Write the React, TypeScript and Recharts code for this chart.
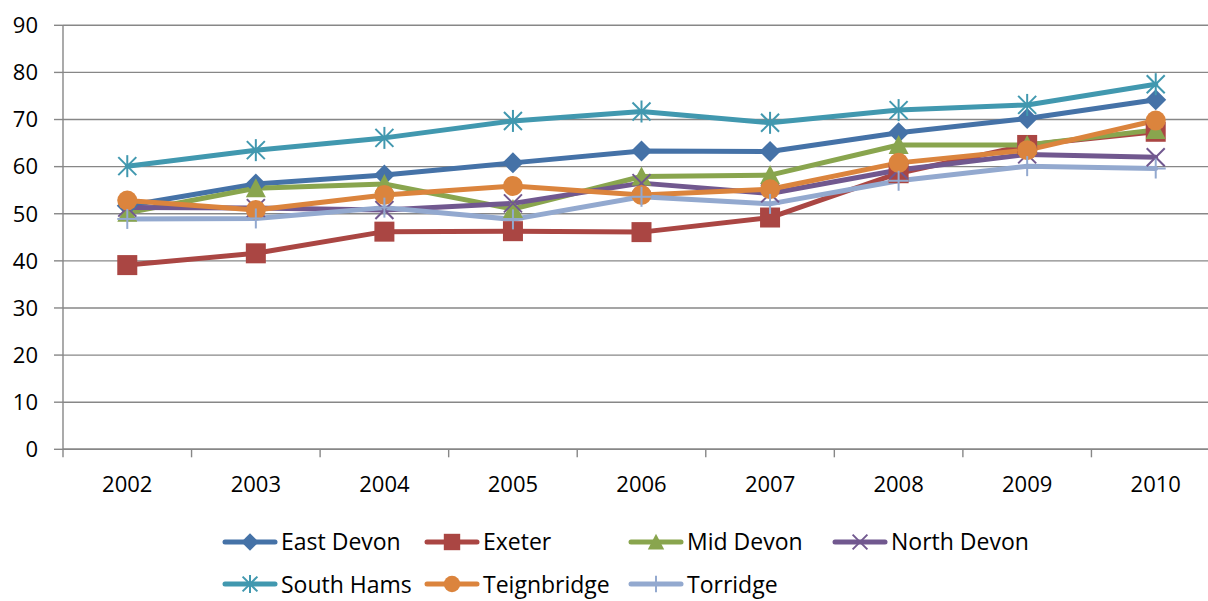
import React from "react";
import { LineChart, Line, XAxis, YAxis, CartesianGrid } from "recharts";

const YEARS = ["2002", "2003", "2004", "2005", "2006", "2007", "2008", "2009", "2010"];

const EAST_DEVON = [51.7, 56.3, 58.2, 60.8, 63.3, 63.2, 67.2, 70.2, 74.2];
const EXETER = [39.1, 41.6, 46.2, 46.3, 46.1, 49.2, 58.6, 64.6, 67.4];
const MID_DEVON = [50.2, 55.4, 56.3, 51.0, 57.9, 58.2, 64.6, 64.6, 67.8];
const NORTH_DEVON = [51.3, 51.2, 50.8, 52.2, 56.5, 54.3, 59.3, 62.6, 62.0];
const SOUTH_HAMS = [60.1, 63.5, 66.1, 69.7, 71.7, 69.3, 72.0, 73.1, 77.5];
const TEIGNBRIDGE = [52.8, 50.8, 54.0, 55.9, 54.0, 55.2, 60.8, 63.5, 69.8];
const TORRIDGE = [48.9, 49.0, 51.3, 48.8, 53.6, 52.1, 57.0, 60.1, 59.6];

const Y_TICKS = [0, 10, 20, 30, 40, 50, 60, 70, 80, 90];

type Shape = "diamond" | "square" | "triangle" | "cross" | "star" | "circle" | "plus";

const SERIES: { name: string; values: number[]; color: string; shape: Shape }[] = [
  { name: "East Devon", values: EAST_DEVON, color: "#4572A7", shape: "diamond" },
  { name: "Exeter", values: EXETER, color: "#AA4643", shape: "square" },
  { name: "Mid Devon", values: MID_DEVON, color: "#89A54E", shape: "triangle" },
  { name: "North Devon", values: NORTH_DEVON, color: "#71588F", shape: "cross" },
  { name: "South Hams", values: SOUTH_HAMS, color: "#4198AF", shape: "star" },
  { name: "Teignbridge", values: TEIGNBRIDGE, color: "#DB843D", shape: "circle" },
  { name: "Torridge", values: TORRIDGE, color: "#93A9CF", shape: "plus" },
];

// each year sits in the middle of its band on a 0..n numeric axis
const rows = YEARS.map((year, i) => {
  const row: Record<string, number | string> = { year, pos: i + 0.5 };
  SERIES.forEach((s) => {
    row[s.name] = s.values[i];
  });
  return row;
});

const CHART_W = 1232;
const CHART_H = 500;
const MARGIN = { top: 25.3, right: 12, bottom: 10.7, left: 0 };
const Y_W = 63;
const PLOT_W = CHART_W - MARGIN.left - MARGIN.right - Y_W;
const HALF_BAND = PLOT_W / YEARS.length / 2;
const GRID = "#878787";
const FONT = "'Open Sans', sans-serif";

function Marker({ shape, color, cx, cy, k = 1 }: { shape: Shape; color: string; cx: number; cy: number; k?: number }) {
  const r = 10 * k;
  switch (shape) {
    case "diamond":
      return <polygon points={`${cx},${cy - r - 0.5} ${cx + r + 0.5},${cy} ${cx},${cy + r + 0.5} ${cx - r - 0.5},${cy}`} fill={color} />;
    case "square":
      return <rect x={cx - r} y={cy - r} width={2 * r} height={2 * r} fill={color} />;
    case "triangle":
      return <polygon points={`${cx},${cy - r} ${cx + r},${cy + r * 0.9} ${cx - r},${cy + r * 0.9}`} fill={color} />;
    case "circle":
      return <circle cx={cx} cy={cy} r={r} fill={color} />;
    case "cross":
      return (
        <g stroke={color} strokeWidth={2}>
          <line x1={cx - r * 0.9} y1={cy - r * 0.9} x2={cx + r * 0.9} y2={cy + r * 0.9} />
          <line x1={cx - r * 0.9} y1={cy + r * 0.9} x2={cx + r * 0.9} y2={cy - r * 0.9} />
        </g>
      );
    case "star":
      return (
        <g stroke={color} strokeWidth={2}>
          <line x1={cx - r * 0.9} y1={cy - r * 0.9} x2={cx + r * 0.9} y2={cy + r * 0.9} />
          <line x1={cx - r * 0.9} y1={cy + r * 0.9} x2={cx + r * 0.9} y2={cy - r * 0.9} />
          <line x1={cx} y1={cy - r * 1.1} x2={cx} y2={cy + r * 1.1} />
        </g>
      );
    case "plus":
      return (
        <g stroke={color} strokeWidth={2}>
          <line x1={cx} y1={cy - r} x2={cx} y2={cy + r} />
          <line x1={cx - r} y1={cy} x2={cx + r} y2={cy} />
        </g>
      );
  }
}

function YearTick(props: any) {
  const { x, y, payload } = props;
  const label = YEARS[payload.value];
  if (!label) return <g />;
  return (
    <text x={x + HALF_BAND} y={y} dy="0.71em" textAnchor="middle" fontSize={22} fontFamily={FONT} fill="#000">
      {label}
    </text>
  );
}

const LEGEND_COLS = [222, 424, 628, 832];
const LEGEND_ROWS = [541.5, 584];

function LegendBlock() {
  return (
    <>
      {SERIES.map((s, i) => {
        const left = LEGEND_COLS[i % 4];
        const top = LEGEND_ROWS[Math.floor(i / 4)] - 12;
        return (
          <div key={s.name} style={{ position: "absolute", left, top, height: 24, display: "flex", alignItems: "center" }}>
            <svg width={56} height={24}>
              <line x1={3} y1={12} x2={53} y2={12} stroke={s.color} strokeWidth={5} strokeLinecap="round" />
              <Marker shape={s.shape} color={s.color} cx={28} cy={12} k={0.82} />
            </svg>
            <span style={{ marginLeft: 3, fontSize: 23, lineHeight: 1, fontFamily: FONT, color: "#000", whiteSpace: "nowrap" }}>
              {s.name}
            </span>
          </div>
        );
      })}
    </>
  );
}

export default function App() {
  return (
    <div style={{ position: "absolute", left: 0, top: 0, width: 1208, height: 601, overflow: "hidden", background: "#fff" }}>
      <LineChart width={CHART_W} height={CHART_H} data={rows} margin={MARGIN}>
        <CartesianGrid vertical={false} stroke={GRID} strokeWidth={1.4} />
        <XAxis
          type="number"
          dataKey="pos"
          domain={[0, YEARS.length]}
          ticks={YEARS.map((_, i) => i).concat(YEARS.length)}
          interval={0}
          allowDataOverflow
          height={40}
          tickSize={8}
          tickMargin={19}
          axisLine={{ stroke: GRID, strokeWidth: 1.4 }}
          tickLine={{ stroke: GRID, strokeWidth: 1.4 }}
          tick={YearTick}
        />
        <YAxis
          domain={[0, 90]}
          ticks={Y_TICKS}
          interval={0}
          width={Y_W}
          tickSize={9}
          tickMargin={16}
          axisLine={{ stroke: GRID, strokeWidth: 1.4 }}
          tickLine={{ stroke: GRID, strokeWidth: 1.4 }}
          tick={{ fontSize: 22, fontFamily: FONT, fill: "#000" }}
        />
        {SERIES.map((s) => (
          <Line
            key={s.name}
            type="linear"
            dataKey={s.name}
            stroke={s.color}
            strokeWidth={5}
            strokeLinejoin="round"
            strokeLinecap="round"
            activeDot={false}
            isAnimationActive={false}
            dot={(p: any) => <Marker key={`${s.name}-${p.index}`} shape={s.shape} color={s.color} cx={p.cx} cy={p.cy} />}
          />
        ))}
      </LineChart>
      <LegendBlock />
    </div>
  );
}
